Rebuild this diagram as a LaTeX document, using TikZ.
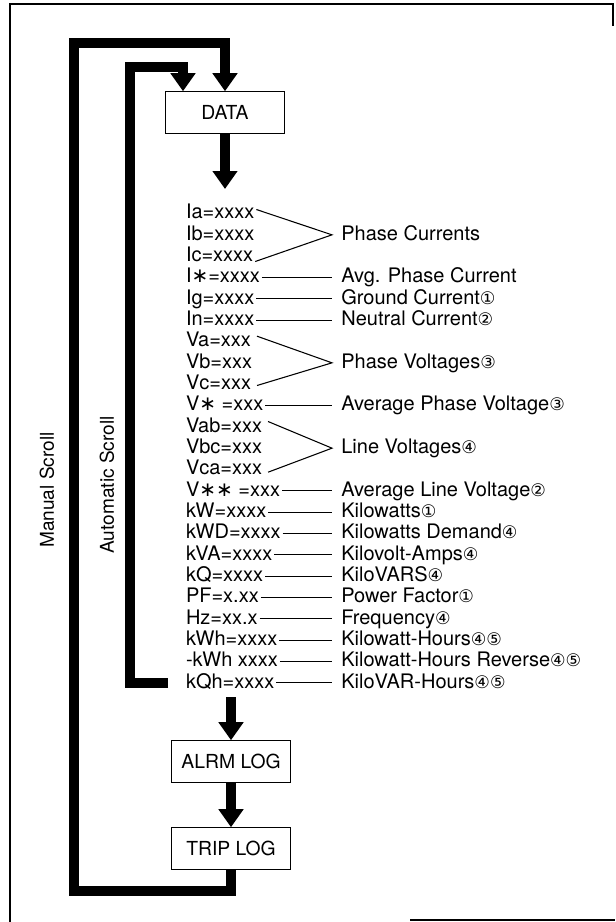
\documentclass[tikz,border=0pt]{standalone}
\usepackage{fontspec}
\setmainfont{TeX Gyre Heros}
\newfontfamily\symfont{DejaVu Sans}
\usetikzlibrary{arrows.meta,positioning,calc}
\newcommand{\cnum}[1]{{\symfont\fontsize{13}{14}\selectfont #1}}
\newcommand{\avgsym}{{\symfont ∗}}

\begin{document}
\begin{tikzpicture}[x=0.75pt, y=-0.75pt,
  flow/.style={line width=7pt, -{Triangle[width=18pt,length=13.5pt]}},
  route/.style={line width=7pt},
  box/.style={draw, line width=0.9pt, minimum width=89pt, minimum height=31pt, font=\fontsize{14.5}{16}\selectfont},
  row/.style={anchor=west, outer sep=0pt, inner xsep=1.5pt, inner ysep=1pt, text height=11pt, text depth=3pt, font=\fontsize{15}{16}\selectfont},
  under/.style={row, below right=0pt and 0pt of #1.south west},
  lab/.style={row, inner xsep=7pt},
  tie/.style={line width=0.8pt},
  side/.style={rotate=90, font=\fontsize{14.3}{16}\selectfont},
  frame/.style={line width=1pt}]
  \useasboundingbox (0,0) rectangle (615,922);
  % page frame
  \draw[frame] (10,922) -- (10,4) -- (613,4) -- (613,26);
  \draw[frame] (410,920) -- (615,920);

  % menu boxes
  \node[box] (data) at (225,112.5) {DATA};
  \node[box] (alrm) at (231,761.5) {ALRM LOG};
  \node[box] (trip) at (231,848.5) {TRIP LOG};

  % readings
  \node[row] (ia) at (184,213.5) {Ia=xxxx};
  \node[under=ia] (ib) {Ib=xxxx};
  \node[under=ib] (ic) {Ic=xxxx};
  \node[under=ic] (iavg) {I\avgsym=xxxx};
  \node[under=iavg] (ig) {Ig=xxxx};
  \node[under=ig] (inl) {In=xxxx};
  \node[under=inl] (va) {Va=xxx};
  \node[under=va] (vb) {Vb=xxx};
  \node[under=vb] (vc) {Vc=xxx};
  \node[under=vc] (vavg) {V\avgsym\ =xxx};
  \node[under=vavg] (vab) {Vab=xxx};
  \node[under=vab] (vbc) {Vbc=xxx};
  \node[under=vbc] (vca) {Vca=xxx};
  \node[under=vca] (vlavg) {V\avgsym\avgsym\ =xxx};
  \node[under=vlavg] (kw) {kW=xxxx};
  \node[under=kw] (kwd) {kWD=xxxx};
  \node[under=kwd] (kva) {kVA=xxxx};
  \node[under=kva] (kq) {kQ=xxxx};
  \node[under=kq] (pf) {PF=x.xx};
  \node[under=pf] (hz) {Hz=xx.x};
  \node[under=hz] (kwh) {kWh=xxxx};
  \node[under=kwh] (rkwh) {-kWh xxxx};
  \node[under=rkwh] (kqh) {kQh=xxxx};

  % meanings
  \coordinate (labx) at (332,0);
  \node[lab] (phc) at (ib.west -| labx) {Phase Currents};
  \node[lab] (avgi) at (iavg.west -| labx) {Avg. Phase Current};
  \node[lab] (gnd) at (ig.west -| labx) {Ground Current\cnum{①}};
  \node[lab] (neu) at (inl.west -| labx) {Neutral Current\cnum{②}};
  \node[lab] (phv) at (vb.west -| labx) {Phase Voltages\cnum{③}};
  \node[lab] (avgv) at (vavg.west -| labx) {Average Phase Voltage\cnum{③}};
  \node[lab] (lnv) at (vbc.west -| labx) {Line Voltages\cnum{④}};
  \node[lab] (avgl) at (vlavg.west -| labx) {Average Line Voltage\cnum{②}};
  \node[lab] (kwl) at (kw.west -| labx) {Kilowatts\cnum{①}};
  \node[lab] (kwdl) at (kwd.west -| labx) {Kilowatts Demand\cnum{④}};
  \node[lab] (kval) at (kva.west -| labx) {Kilovolt-Amps\cnum{④}};
  \node[lab] (kql) at (kq.west -| labx) {KiloVARS\cnum{④}};
  \node[lab] (pfl) at (pf.west -| labx) {Power Factor\cnum{①}};
  \node[lab] (hzl) at (hz.west -| labx) {Frequency\cnum{④}};
  \node[lab] (kwhl) at (kwh.west -| labx) {Kilowatt-Hours\cnum{④⑤}};
  \node[lab] (rkwhl) at (rkwh.west -| labx) {Kilowatt-Hours Reverse\cnum{④⑤}};
  \node[lab] (kqhl) at (kqh.west -| labx) {KiloVAR-Hours\cnum{④⑤}};

  \draw[tie] ([yshift=3pt]ia.east) -- (phc.west) -- ([yshift=-4pt]ic.east);
  \draw[tie] ([xshift=3pt,yshift=4pt]va.east) -- (phv.west) -- ([xshift=3pt,yshift=-1pt]vc.east);
  \draw[tie] ([xshift=3pt,yshift=4pt]vab.east) -- (lnv.west) -- ([xshift=3pt,yshift=-2pt]vca.east);
  \draw[tie] (iavg) -- (avgi);
  \draw[tie] (ig) -- (gnd);
  \draw[tie] (inl) -- (neu);
  \draw[tie] (vavg) -- (avgv);
  \draw[tie] (vlavg) -- (avgl);
  \draw[tie] (kw) -- (kwl);
  \draw[tie] (kwd) -- (kwdl);
  \draw[tie] (kva) -- (kval);
  \draw[tie] (kq) -- (kql);
  \draw[tie] (pf) -- (pfl);
  \draw[tie] (hz) -- (hzl);
  \draw[tie] (kwh) -- (kwhl);
  \draw[tie] (rkwh) -- (rkwhl);
  \draw[tie] (kqh) -- (kqhl);

  % scrolling paths
  \coordinate (listtop) at (225,189);
  \coordinate (listend) at (231,697);
  \draw[flow] (data.south) -- (listtop);
  \draw[flow] (listend) -- (alrm.north);
  \draw[flow] (alrm.south) -- (trip.north);

  \coordinate (manbot) at (74,891);
  \coordinate (mantop) at (74,43);
  \draw[flow] (trip.south) |- (manbot) -- (mantop) -| (data.north);
  \coordinate (autotop) at (130,67);
  \draw[flow] ([xshift=-12pt]kqh.west) -| (autotop) -| ($(data.north)+(-42,0)$);

  \node[side] (manual) at (47,490) {Manual Scroll};
  \node[side] (autom) at (107,485) {Automatic Scroll};
\end{tikzpicture}
\end{document}
